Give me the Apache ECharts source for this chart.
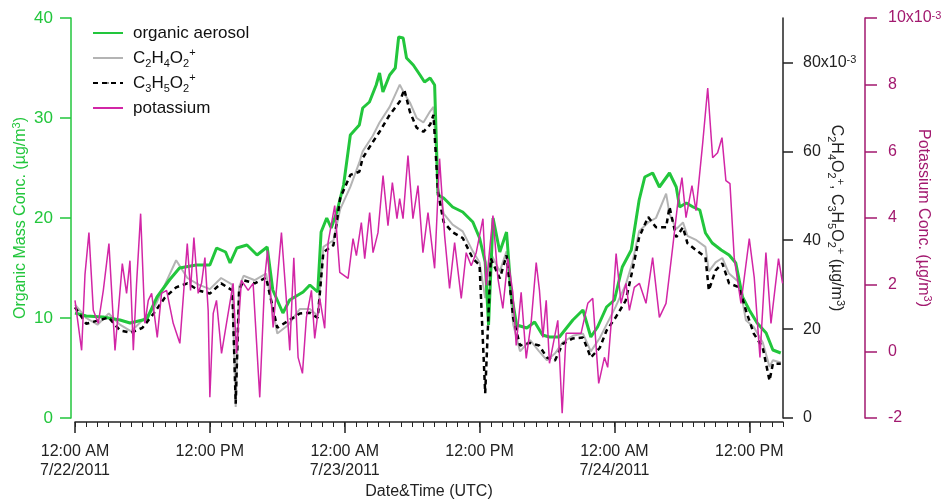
<!DOCTYPE html>
<html>
<head>
<meta charset="utf-8">
<script src="https://cdn.jsdelivr.net/npm/echarts@6.0.0/dist/echarts.min.js"></script>
<style>
  html, body { margin: 0; padding: 0; background: #fff; }
  #chart { width: 943px; height: 503px; }
</style>
</head>
<body>
<div id="chart"></div>
<script>
// hours after 7/22/2011 12:00 AM (UTC)
var oaHours = [0,1,2.5,4,4.9,6.4,7.3,8.4,9.3,10.8,12,12.6,13.4,13.8,14.4,15.3,16.2,17.1,17.6,18.5,19.1,20.3,20.9,21.6,21.9,22.4,22.8,23.3,23.9,24.5,25.3,25.6,26.2,26.8,27.1,27.4,28.0,28.5,28.8,29.2,29.5,30.1,30.7,31.1,31.6,32.0,32.3,32.8,33.6,34.5,35.4,36.0,36.5,36.8,37.2,37.8,38.4,38.8,39.3,40.2,40.9,41.6,42.2,43.1,44.3,45.2,45.9,46.5,47.3,48.0,48.7,49.5,50.2,50.7,51.4,52.0,52.9,53.5,53.8,54.4,55.0,55.6,56.1,56.7,57.5,58.2,58.8,59.4,60.0,60.7,61.5,62.1,62.8];
var organicAerosol = [10.5,10.2,10.1,9.8,9.5,9.9,12.1,13.8,15.0,15.3,15.3,17.0,16.6,15.5,17.0,17.3,16.3,17.1,12.8,10.5,11.8,12.6,13.3,12.6,18.6,20.0,19.0,20.6,23.3,28.3,29.3,31.0,31.6,33.3,34.5,32.6,34.3,35.0,38.1,38.0,36.0,35.3,34.3,33.6,34.0,33.3,22.3,22.0,21.1,20.6,19.6,18.0,15.6,9.3,20.0,16.6,18.6,12.6,9.3,9.0,9.6,8.3,8.1,8.1,9.8,10.8,8.1,9.1,11.1,11.8,15.1,16.8,21.8,24.1,24.5,23.1,24.5,23.1,21.1,21.5,21.1,20.8,18.5,17.5,16.8,16.3,15.5,12.1,10.8,9.5,8.5,6.8,6.5];

var ionHours = [0,1,2,3,4,5,6,7,8,9,10,11,12,13,14,14.3,14.6,15,16,17,18,19,20,20.9,21.6,22.1,23.0,23.6,24.5,25.3,25.6,26.5,27.1,28.0,28.9,29.3,29.8,30.4,31.0,31.6,31.9,32.3,32.8,33.6,34.5,35.4,36.0,36.5,37.0,37.8,38.4,39.0,39.6,40.5,41.3,42.0,42.7,43.4,44.3,45.2,45.9,46.7,47.3,48.1,49.0,49.6,50.2,51.0,51.7,52.6,52.9,53.5,54.1,54.5,55.3,56.1,56.4,57.0,57.6,58.2,59.1,59.7,60.4,61.2,61.8,62.1,62.8];
// x10^-3 ug/m3
var c2h4o2 = [25.5,22.5,21.0,23.5,21.0,19.5,22.0,24.5,30.0,35.5,31.5,30.0,29.0,31.5,30.0,2.5,29.5,32.0,31.0,32.5,19.0,21.0,24.5,24.5,23.0,38.5,40.0,47.0,52.0,57.5,60.0,63.5,66.5,70.0,75.0,73.0,71.0,67.5,66.5,69.0,70.0,52.0,46.0,43.5,42.0,37.5,35.0,27.0,37.0,33.0,37.5,21.0,15.0,17.5,15.0,13.0,14.5,17.0,18.5,19.0,15.0,18.0,21.0,25.0,30.0,35.0,42.0,44.0,45.0,50.5,46.0,42.5,44.0,41.0,40.0,38.5,33.0,35.0,36.0,32.5,30.5,22.0,20.5,17.0,11.5,13.0,12.5];
var c3h5o2 = [24.9,21.2,21.9,22.6,19.7,19.2,20.3,23.5,27.1,29.4,30.3,28.7,28.0,30.3,28.7,3.2,28.7,31.0,30.3,31.6,20.3,21.9,23.5,23.7,22.5,37.3,38.9,49.5,54.7,55.4,58.5,62.1,64.4,68.2,71.2,73.9,68.9,65.3,64.4,66.0,68.2,50.8,44.1,41.8,40.5,35.9,34.4,5.6,35.9,31.4,36.6,22.4,16.3,16.9,16.3,13.6,12.9,16.7,17.9,18.1,13.6,15.8,19.7,22.6,26.4,33.2,40.7,45.2,42.9,42.9,47.5,40.7,42.9,39.3,37.7,36.2,28.7,33.2,34.8,30.3,29.4,24.2,19.0,15.8,8.4,12.2,12.2];

var kHours = [0.0,0.59,0.89,1.24,1.63,2.07,2.52,3.02,3.56,4.21,4.59,4.89,5.19,5.48,5.84,6.22,6.52,6.82,7.32,7.70,8.15,8.74,9.33,9.99,10.28,10.58,10.96,11.26,11.56,11.85,12.0,12.3,12.59,13.04,13.48,14.07,14.37,14.81,15.41,15.85,16.44,16.89,17.13,17.63,18.37,18.81,19.11,19.47,19.85,20.24,20.59,21.04,21.33,21.78,22.22,22.52,23.11,23.56,24.3,24.74,25.04,25.48,25.78,26.22,26.52,26.96,27.41,27.85,28.24,28.65,28.89,29.19,29.63,30.07,30.52,30.96,31.41,32.0,32.44,32.89,33.33,33.78,34.37,34.81,35.26,35.7,36.3,36.59,37.19,37.63,38.07,38.52,38.96,39.26,39.7,40.15,40.59,41.04,41.33,41.63,41.93,42.22,42.96,43.35,43.7,45.03,45.63,46.07,46.6,47.11,47.4,47.85,48.15,48.59,49.03,49.33,49.77,50.22,50.81,51.4,52.0,52.59,53.18,53.63,54.01,54.37,54.9,55.26,55.85,56.3,56.74,57.18,57.57,57.92,58.28,58.66,59.26,60.0,60.44,60.95,61.48,61.93,62.6,62.96];
// x10^-3 ug/m3
var potassium = [1.53,0.03,2.31,3.56,1.23,0.84,1.83,3.23,0.03,2.63,1.74,2.72,0.03,2.04,4.13,0.84,1.53,1.74,0.42,1.74,1.83,0.84,0.24,3.23,1.83,3.41,1.74,2.04,2.81,1.23,-1.38,1.14,1.53,-0.06,0.84,2.04,-0.06,2.13,1.83,2.04,-1.38,2.22,3.02,0.72,3.56,1.53,0.03,2.81,-0.18,-0.66,1.02,1.83,0.39,1.59,0.69,3.26,4.37,2.37,2.19,3.38,2.87,3.86,2.78,4.16,2.96,3.56,5.27,3.77,5.06,3.98,4.58,3.98,5.87,3.98,4.97,2.96,4.16,2.49,5.78,3.47,1.89,3.26,1.59,2.96,2.57,2.96,3.98,1.98,4.07,2.19,1.29,2.78,1.77,0.18,1.77,-0.21,0.87,2.66,1.83,0.42,1.53,-0.36,0.93,-1.86,0.54,0.54,1.44,1.59,-0.96,-0.18,-0.48,1.44,2.93,1.44,2.04,1.23,1.92,2.04,1.44,2.81,1.02,1.44,3.11,4.43,5.21,4.01,4.97,4.22,6.23,7.90,5.81,5.96,6.41,5.12,5.03,2.81,1.44,3.38,2.22,-0.18,2.96,0.84,2.78,2.04];

var tickHours = [0, 12, 24, 36, 48, 60];
var tickLabels = ['12:00 AM\n7/22/2011', '12:00 PM', '12:00 AM\n7/23/2011', '12:00 PM', '12:00 AM\n7/24/2011', '12:00 PM'];
var ionTicks = [0, 20, 40, 60, 80];

var GREEN = '#22c63c', MAG = '#d226a6', MAGAX = '#a2196f', FONT = 'Liberation Sans, Arial, sans-serif';

function pairs(xs, ys) {
  return xs.map(function (x, i) { return [x, ys[i]]; });
}

function rich(color) {
  return {
    sub: { color: color, fontSize: 11, fontFamily: FONT, verticalAlign: 'bottom', lineHeight: 11 },
    sup: { color: color, fontSize: 11, fontFamily: FONT, verticalAlign: 'top', lineHeight: 11 }
  };
}

var legendText = {
  'organic aerosol': 'organic aerosol',
  'C2H4O2+': 'C{sub|2}H{sub|4}O{sub|2}{sup|+}',
  'C3H5O2+': 'C{sub|3}H{sub|5}O{sub|2}{sup|+}',
  'potassium': 'potassium'
};

var chart = echarts.init(document.getElementById('chart'));
var option = {
  backgroundColor: '#fff',
  animation: false,
  textStyle: { fontFamily: FONT },
  grid: { left: 75, right: 160, top: 18, bottom: 85, outerBoundsMode: 'none', containLabel: false },
  legend: {
    orient: 'vertical', left: 92, top: 22, padding: 0,
    itemWidth: 30, itemHeight: 2, itemGap: 3,
    data: ['organic aerosol', 'C2H4O2+', 'C3H5O2+', 'potassium'],
    formatter: function (n) { return legendText[n]; },
    textStyle: { fontSize: 17, color: '#111', lineHeight: 22, fontFamily: FONT, padding: [0, 0, 0, 5], rich: rich('#111') }
  },
  xAxis: [
    {
      type: 'value', position: 'bottom', offset: 4, min: 0, max: 63, interval: 1,
      axisLine: { onZero: false, lineStyle: { color: '#222', width: 1.5 } },
      axisTick: { length: 5, lineStyle: { color: '#222' } },
      axisLabel: { show: false }, splitLine: { show: false }
    },
    {
      type: 'value', position: 'bottom', offset: 4, min: 0, max: 63, interval: 12,
      axisLine: { show: false, onZero: false },
      axisTick: { length: 11, customValues: tickHours, lineStyle: { color: '#222', width: 1.5 } },
      axisLabel: {
        customValues: tickHours, margin: 20, fontSize: 16, color: '#222', lineHeight: 19,
        formatter: function (v) { return tickLabels[tickHours.indexOf(v)] || ''; }
      },
      splitLine: { show: false },
      name: 'Date&Time (UTC)', nameLocation: 'middle', nameGap: 62, nameMoveOverlap: false,
      nameTextStyle: { fontSize: 16, color: '#222' }
    }
  ],
  yAxis: [
    {
      type: 'value', position: 'left', offset: 4, min: 0, max: 40, interval: 10,
      axisLine: { show: true, onZero: false, lineStyle: { color: GREEN, width: 1.5 } },
      axisTick: { show: true, length: 11, lineStyle: { color: GREEN, width: 1.5 } },
      axisLabel: { color: GREEN, fontSize: 17, margin: 18 },
      splitLine: { show: false },
      name: 'Organic Mass Conc. (\u00b5g/m{sup|3})', nameLocation: 'middle', nameGap: 40, nameMoveOverlap: false,
      nameTextStyle: { color: GREEN, fontSize: 16, lineHeight: 20, rich: rich(GREEN) }
    },
    {
      type: 'value', position: 'right', offset: 0, min: 0, max: 90, interval: 20,
      axisLine: { show: true, onZero: false, lineStyle: { color: '#222', width: 1.5 } },
      axisTick: { show: true, length: 10, customValues: ionTicks, lineStyle: { color: '#222', width: 1.5 } },
      axisLabel: {
        customValues: ionTicks, color: '#222', fontSize: 16, margin: 20, rich: rich('#222'),
        formatter: function (v) { return v === 80 ? '80x10{sup|-3}' : String(v); }
      },
      splitLine: { show: false },
      name: 'C{sub|2}H{sub|4}O{sub|2}{sup|+}, C{sub|3}H{sub|5}O{sub|2}{sup|+} (\u00b5g/m{sup|3})',
      nameLocation: 'middle', nameGap: 43, nameRotate: -90, nameMoveOverlap: false,
      nameTextStyle: { color: '#222', fontSize: 16, lineHeight: 20, rich: rich('#222') }
    },
    {
      type: 'value', position: 'right', offset: 82, min: -2, max: 10, interval: 2,
      axisLine: { show: true, onZero: false, lineStyle: { color: MAGAX, width: 1.5 } },
      axisTick: { show: true, length: 12, lineStyle: { color: MAGAX, width: 1.5 } },
      axisLabel: {
        color: MAGAX, fontSize: 16, margin: 23, rich: rich(MAGAX),
        formatter: function (v) { return v === 10 ? '10x10{sup|-3}' : String(v); }
      },
      splitLine: { show: false },
      name: 'Potassium Conc. (\u00b5g/m{sup|3})', nameLocation: 'middle', nameGap: 48, nameRotate: -90, nameMoveOverlap: false,
      nameTextStyle: { color: MAGAX, fontSize: 16, lineHeight: 20, rich: rich(MAGAX) }
    }
  ],
  series: [
    {
      name: 'C2H4O2+', type: 'line', xAxisIndex: 0, yAxisIndex: 1, symbol: 'none',
      lineStyle: { color: '#b4b4b4', width: 2 }, itemStyle: { color: '#b4b4b4' },
      data: pairs(ionHours, c2h4o2)
    },
    {
      name: 'organic aerosol', type: 'line', xAxisIndex: 0, yAxisIndex: 0, symbol: 'none',
      lineStyle: { color: GREEN, width: 3 }, itemStyle: { color: GREEN },
      data: pairs(oaHours, organicAerosol)
    },
    {
      name: 'C3H5O2+', type: 'line', xAxisIndex: 0, yAxisIndex: 1, symbol: 'none',
      lineStyle: { color: '#000', width: 2.5, type: [5, 4] }, itemStyle: { color: '#000' },
      data: pairs(ionHours, c3h5o2)
    },
    {
      name: 'potassium', type: 'line', xAxisIndex: 0, yAxisIndex: 2, symbol: 'none',
      lineStyle: { color: MAG, width: 1.5 }, itemStyle: { color: MAG },
      data: pairs(kHours, potassium)
    }
  ]
};
chart.setOption(option);
</script>
</body>
</html>
